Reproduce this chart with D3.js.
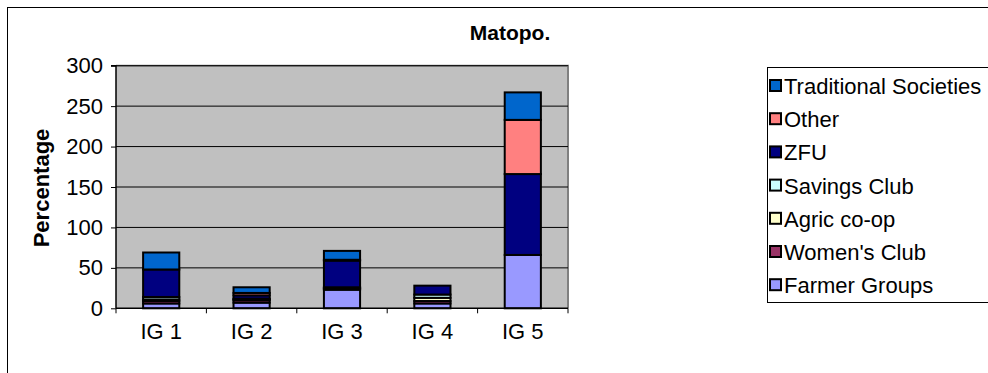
<!DOCTYPE html>
<html><head><meta charset="utf-8">
<script src="https://cdn.jsdelivr.net/npm/d3@7"></script>
<style>body{margin:0;background:#fff;}svg{display:block;font-family:Arial,"Liberation Sans",sans-serif;}</style>
</head><body>
<svg id="c" width="988" height="373"></svg>
<script>
const categories = ["IG 1","IG 2","IG 3","IG 4","IG 5"];
const seriesNames = ["Farmer Groups","Women's Club","Agric co-op","Savings Club","ZFU","Other","Traditional Societies"];
const farmerGroups = [6, 7, 23, 6, 66];
const womensClub   = [3, 3, 1, 3, 0];
const agricCoop    = [2, 1, 1, 4, 0];
const savingsClub  = [3, 1, 1, 4, 0];
const zfu          = [34, 4, 33, 11, 100];
const other        = [0, 3, 1, 0, 67];
const traditional  = [21, 7, 11, 0, 34];
const yTicks = [0, 50, 100, 150, 200, 250, 300];
const colors = ["#9999FF","#993366","#FFFFCC","#CCFFFF","#000080","#FF8080","#0066CC"];

const seriesValues = [farmerGroups, womensClub, agricCoop, savingsClub, zfu, other, traditional];
const rows = categories.map((c,i)=>{const r={cat:c}; seriesNames.forEach((s,j)=>r[s]=seriesValues[j][i]); return r;});
const stacked = d3.stack().keys(seriesNames)(rows);

const FS = 22;
const svg = d3.select("#c");
svg.append("rect").attr("x",7.5).attr("y",7.5).attr("width",1000).attr("height",400).attr("fill","#fff").attr("stroke","#000").attr("stroke-width",1);

const L=116, R=568, T=65.7, B=308.3;
const x = d3.scaleBand().domain(categories).range([L,R]).paddingInner(0.6).paddingOuter(0.3);
const y = d3.scaleLinear().domain([0,300]).range([B,T]);

svg.append("rect").attr("x",L).attr("y",T).attr("width",R-L).attr("height",B-T).attr("fill","#C0C0C0");
svg.append("path").attr("d",`M${L},${T}H${R}V${B}`).attr("fill","none").attr("stroke","#808080").attr("stroke-width",2);

svg.append("g").selectAll("line").data(yTicks.filter(t=>t>0)).join("line")
  .attr("x1",L).attr("x2",R).attr("y1",d=>y(d)).attr("y2",d=>y(d)).attr("stroke","#000").attr("stroke-width",1);

svg.append("g").selectAll("g").data(stacked).join("g").attr("fill",(d,i)=>colors[i])
  .selectAll("rect").data(d=>d).join("rect")
  .attr("x",d=>x(d.data.cat)).attr("width",x.bandwidth())
  .attr("y",d=>y(d[1])).attr("height",d=>y(d[0])-y(d[1]))
  .attr("stroke","#000").attr("stroke-width",2);

// y axis
const yAxis = d3.axisLeft(y).tickValues(yTicks).tickSize(5).tickPadding(8);
const ga = svg.append("g").attr("transform",`translate(${L},0)`).call(yAxis);
ga.select(".domain").attr("stroke","#000").attr("stroke-width",1.5).attr("d",`M-5,${T}H0V${B}`);
ga.selectAll("text").attr("font-size",FS).attr("fill","#000").attr("font-family","Arial, 'Liberation Sans', sans-serif");
ga.selectAll(".tick line").attr("stroke","#000");

// x axis
const gx = svg.append("g");
gx.append("line").attr("x1",L).attr("x2",R).attr("y1",B).attr("y2",B).attr("stroke","#000").attr("stroke-width",1.5);
gx.selectAll("line.t").data(d3.range(categories.length+1)).join("line").attr("class","t")
  .attr("x1",i=>L+i*(R-L)/categories.length).attr("x2",i=>L+i*(R-L)/categories.length)
  .attr("y1",B).attr("y2",B+5).attr("stroke","#000");
gx.selectAll("text").data(categories).join("text")
  .attr("x",d=>x(d)+x.bandwidth()/2).attr("y",339).attr("text-anchor","middle")
  .attr("font-size",FS).text(d=>d);

svg.append("text").attr("transform","translate(49,188) rotate(-90)").attr("text-anchor","middle")
  .attr("font-size",FS).attr("font-weight","bold").text("Percentage");
svg.append("text").attr("x",510).attr("y",40).attr("text-anchor","middle")
  .attr("font-size",21).attr("font-weight","bold").text("Matopo.");

// legend
const lg = svg.append("g");
lg.append("rect").attr("x",767.5).attr("y",67.5).attr("width",230).attr("height",235).attr("fill","#fff").attr("stroke","#000");
const legItems = seriesNames.map((s,i)=>({s,c:colors[i]})).reverse();
const le = lg.selectAll("g").data(legItems).join("g").attr("transform",(d,i)=>`translate(0,${86+i*33.2})`);
le.append("rect").attr("x",770).attr("y",-6).attr("width",11).attr("height",11).attr("fill",d=>d.c).attr("stroke","#000").attr("stroke-width",2);
le.append("text").attr("x",784).attr("y",8).attr("font-size",FS).text(d=>d.s);
</script>
</body></html>
